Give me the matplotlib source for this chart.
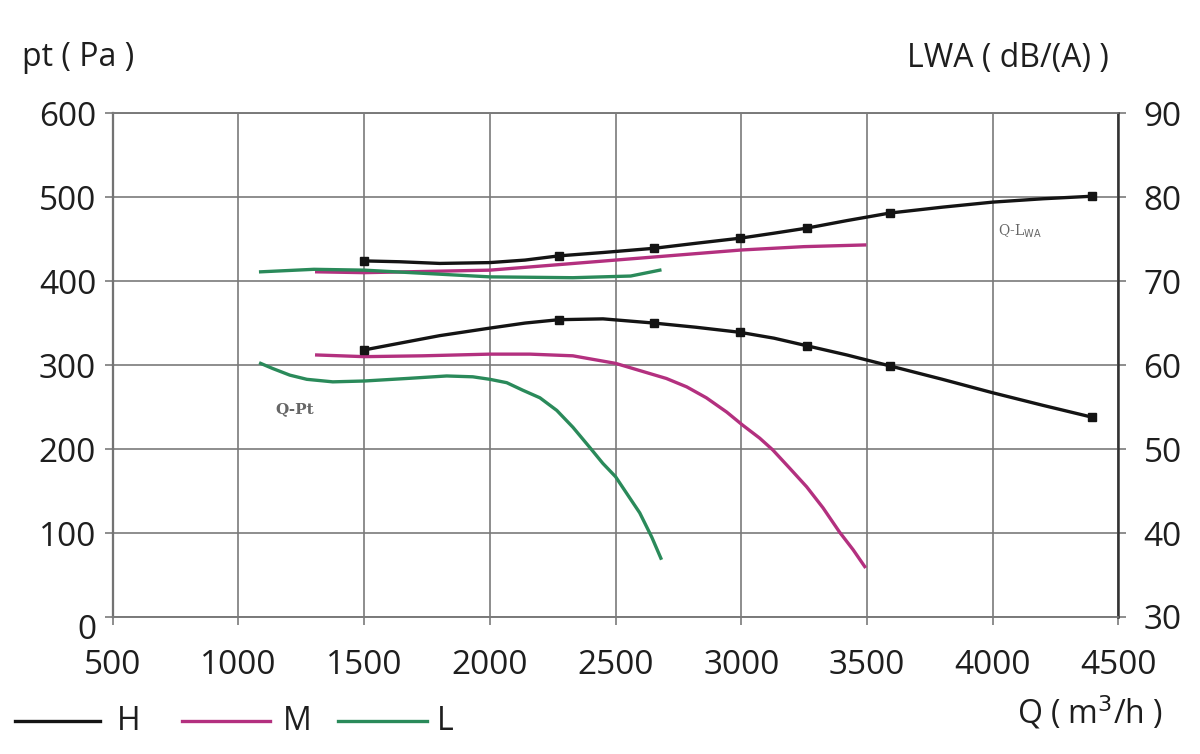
import matplotlib
matplotlib.use("Agg")
import matplotlib.pyplot as plt
from matplotlib.lines import Line2D
from matplotlib.transforms import ScaledTranslation

# ---- data ----
x_ticks = [500, 1000, 1500, 2000, 2500, 3000, 3500, 4000, 4500]
pt_ticks = [0, 100, 200, 300, 400, 500, 600]
lwa_ticks = [30, 40, 50, 60, 70, 80, 90]

# H (high speed) - pressure and sound power
H_Q = [1500, 1641, 1800, 2000, 2140, 2274, 2450, 2652, 2820, 2994, 3130, 3260,
       3420, 3591, 3800, 4000, 4200, 4394]
H_pt = [318, 326, 335, 344, 350, 354, 355, 350, 345, 339, 332, 323,
        312, 299, 283, 267, 252, 238]
H_lwa = [72.4, 72.3, 72.1, 72.2, 72.5, 73.0, 73.4, 73.9, 74.5, 75.1, 75.7, 76.3,
         77.2, 78.1, 78.8, 79.4, 79.8, 80.1]
H_marker_idx = [0, 5, 7, 9, 11, 13, 17]

# M (medium speed)
M_pt_Q = [1311, 1500, 1733, 2000, 2159, 2330, 2500, 2545, 2702, 2783, 2861, 2942,
          3003, 3073, 3125, 3193, 3260, 3325, 3391, 3445, 3491]
M_pt = [312, 310, 311, 313, 313, 311, 302, 298, 284, 274, 261, 244,
        229, 213, 199, 177, 155, 130, 101, 80, 60]
M_lwa_Q = [1311, 1500, 2000, 2500, 3000, 3250, 3491]
M_lwa = [71.1, 71.0, 71.3, 72.5, 73.7, 74.1, 74.3]

# L (low speed)
L_pt_Q = [1088, 1135, 1204, 1272, 1375, 1500, 1669, 1828, 1932, 2000, 2067, 2131,
          2199, 2266, 2330, 2397, 2449, 2500, 2549, 2596, 2644, 2680]
L_pt = [302, 296, 288, 283, 280, 281, 284, 287, 286, 283, 279, 270,
        261, 246, 226, 202, 183, 167, 145, 124, 95, 70]
L_lwa_Q = [1088, 1300, 1500, 1750, 2000, 2330, 2560, 2676]
L_lwa = [71.1, 71.4, 71.3, 70.9, 70.5, 70.4, 70.6, 71.3]

C_H = "#141414"
C_M = "#b3307f"
C_L = "#2a8a5a"
GRID = "#7a7a7a"
TXT = "#1e1e1e"
FONT = "Open Sans"

plt.rcParams["font.family"] = [FONT, "DejaVu Sans"]

fig = plt.figure(figsize=(12, 7.54), dpi=100)
ax = fig.add_axes([0.094, 0.1817, 0.838, 0.6683])
ax2 = ax.twinx()

ax.set_xlim(500, 4500)
ax.set_ylim(0, 600)
ax2.set_ylim(30, 90)
ax.set_xticks(x_ticks)
ax.set_yticks(pt_ticks)
ax2.set_yticks(lwa_ticks)

ax.grid(True, color=GRID, linewidth=1.2, zorder=0)
ax.set_axisbelow(True)

for a in (ax, ax2):
    for s in a.spines.values():
        s.set_color(GRID)
        s.set_linewidth(1.2)
ax.spines["left"].set_color("#555555")
ax.spines["left"].set_linewidth(1.6)
ax2.spines["right"].set_color("#333333")
ax2.spines["right"].set_linewidth(1.8)

ax.tick_params(axis="x", direction="out", length=6, width=1.2, color=GRID,
               pad=17, labelsize=24, labelcolor=TXT)
ax.tick_params(axis="y", direction="out", length=6, width=1.2, color=GRID,
               pad=6, labelsize=24, labelcolor=TXT)
ax2.tick_params(axis="y", direction="out", length=6, width=1.2, color=GRID,
                pad=12, labelsize=24, labelcolor=TXT)

lw = 2.4
# pressure curves
ax.plot(H_Q, H_pt, color=C_H, lw=lw, marker="s", markersize=6,
        markevery=H_marker_idx, zorder=4, solid_joinstyle="round")
ax.plot(M_pt_Q, M_pt, color=C_M, lw=lw, zorder=3, solid_joinstyle="round")
ax.plot(L_pt_Q, L_pt, color=C_L, lw=lw, zorder=3, solid_joinstyle="round")
# sound power curves
ax2.plot(H_Q, H_lwa, color=C_H, lw=lw, marker="s", markersize=6,
         markevery=H_marker_idx, zorder=4, solid_joinstyle="round")
ax2.plot(M_lwa_Q, M_lwa, color=C_M, lw=lw, zorder=3, solid_joinstyle="round")
ax2.plot(L_lwa_Q, L_lwa, color=C_L, lw=lw, zorder=3, solid_joinstyle="round")

# shift the "0" label down a bit like the reference
fig.canvas.draw()
lbl0 = ax.get_yticklabels()[0]
lbl0.set_transform(lbl0.get_transform() + ScaledTranslation(0, -7 / 72, fig.dpi_scale_trans))

# small curve annotations
fig.text(998 / 1200, 1 - 231 / 754, r"Q-L$_{\mathrm{WA}}$", family="DejaVu Serif",
         fontsize=10, color="#666666", va="center", ha="left")
fig.text(275 / 1200, 1 - 409 / 754, "Q-Pt", family="DejaVu Serif",
         fontsize=11, color="#666666", va="center", ha="left", fontweight="bold")

# axis titles
fig.text(22 / 1200, 1 - 58 / 754, "pt ( Pa )", fontsize=23, color=TXT,
         va="center", ha="left")
fig.text(907 / 1200, 1 - 58 / 754, "LWA ( dB/(A) )", fontsize=23, color=TXT,
         va="center", ha="left")
fig.text(1017 / 1200, 1 - 713 / 754, "Q ( m$^3$/h )", fontsize=23, color=TXT,
         va="center", ha="left")

# legend drawn in figure coordinates
leg_y = 1 - 721 / 754
for (x0, x1, tx, col, lab) in [(15, 100, 117, C_H, "H"),
                               (182, 270, 283, C_M, "M"),
                               (338, 427, 437, C_L, "L")]:
    fig.add_artist(Line2D([x0 / 1200, x1 / 1200], [leg_y, leg_y], color=col,
                          lw=2.4, transform=fig.transFigure))
    fig.text(tx / 1200, leg_y, lab, fontsize=23, color=TXT, va="center", ha="left")

fig.savefig("out.png", dpi=100, facecolor="white")
